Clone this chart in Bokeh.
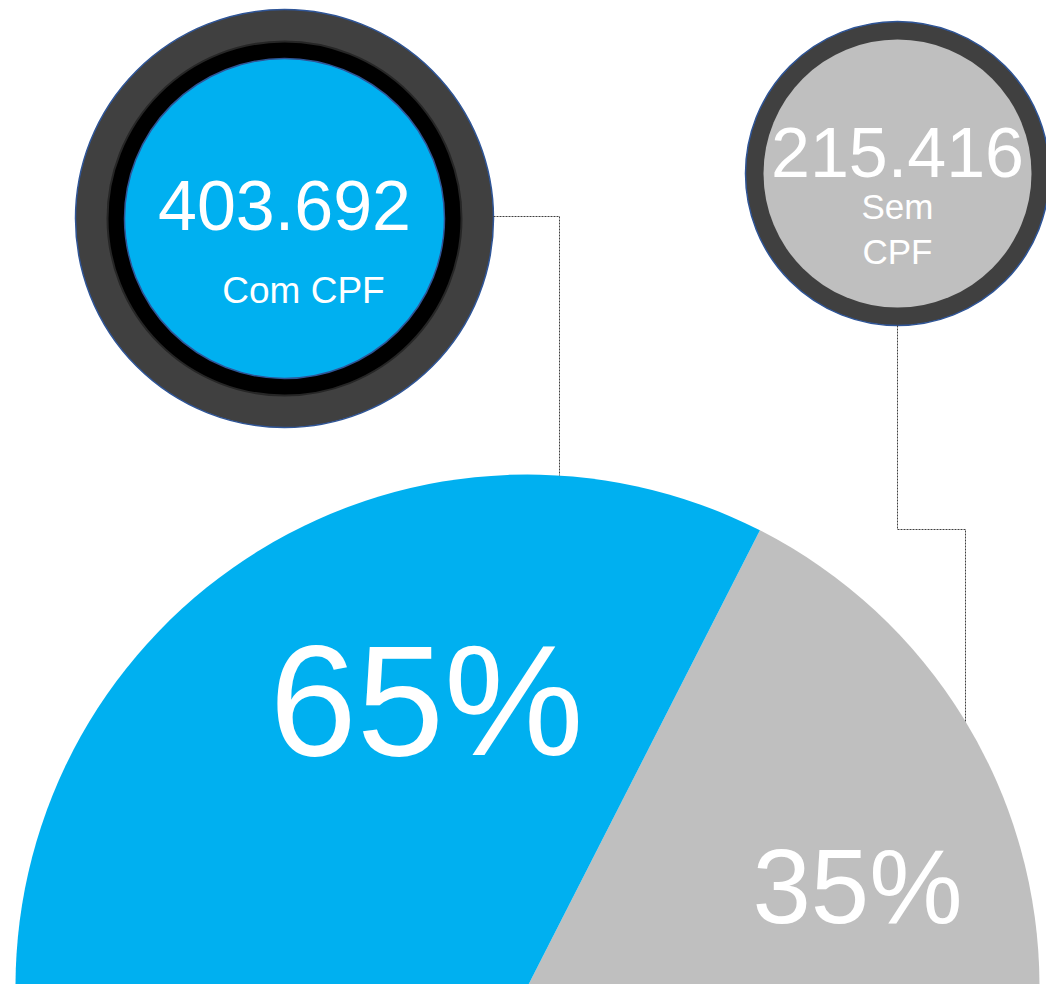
import math
from bokeh.plotting import figure
from bokeh.models import Range1d
from bokeh.core.properties import value
from bokeh.embed import file_html
from bokeh.resources import INLINE

# ---- data ----
categories = ["Com CPF", "Sem CPF"]
counts = [403692, 215416]
count_labels = ["403.692", "215.416"]
percents = [65, 35]
percent_labels = ["65%", "35%"]
colors = ["#00B0F0", "#BFBFBF"]

FONT = value("Liberation Sans")
W, H, PAGE_H = 1046, 984, 988


def Y(sy):
    return PAGE_H - sy


p = figure(width=W, height=H, x_range=Range1d(0, W),
           y_range=Range1d(PAGE_H - H, PAGE_H),
           output_backend="svg", toolbar_location=None, min_border=0)
p.axis.visible = False
p.grid.visible = False
p.outline_line_color = None
p.background_fill_color = "white"
p.border_fill_color = "white"

# ---- half pie ----
PCX, PCY, PR = 527, 986, 512
order = [1, 0]  # counter-clockwise from the right: Sem CPF, then Com CPF
start = 0.0
ws, we, wc = [], [], []
for i in order:
    a = percents[i] / 100.0 * math.pi
    ws.append(start)
    we.append(start + a)
    wc.append(colors[i])
    start += a
p.wedge(x=[PCX] * 2, y=[Y(PCY)] * 2, radius=PR, start_angle=ws, end_angle=we,
        fill_color=wc, line_color=None)


def label(x, sy, txt, size):
    p.text(x=[x], y=[Y(sy)], text=[txt], text_font=FONT,
           text_font_size=size, text_color="white", text_align="center",
           text_baseline="middle")


label(426, 700, percent_labels[0], "157px")
label(857, 885.5, percent_labels[1], "105px")


def arc_y(x):
    return PCY - math.sqrt(PR ** 2 - (x - PCX) ** 2)


# ---- left circle (Com CPF) ----
LCX, LCY = 284, 218
p.circle(x=[LCX], y=[Y(LCY)], radius=209, fill_color="#404040",
         line_color="#2F5597", line_width=1.5)
p.circle(x=[LCX], y=[Y(LCY)], radius=177, fill_color="#000000",
         line_color="#262626", line_width=2)
p.circle(x=[LCX], y=[Y(LCY)], radius=160, fill_color=colors[0],
         line_color="#2F5597", line_width=1.5)
label(LCX, 205, count_labels[0], "70px")
label(303, 290, categories[0], "37px")

# ---- right circle (Sem CPF) ----
RCX, RCY = 897, 173
p.circle(x=[RCX], y=[Y(RCY)], radius=152, fill_color="#404040",
         line_color="#2F5597", line_width=1.5)
p.circle(x=[RCX], y=[Y(RCY)], radius=134, fill_color=colors[1],
         line_color=None)
label(RCX, 152, count_labels[1], "70px")
sem, cpf = categories[1].split(" ")
label(RCX, 205.5, sem, "35px")
label(RCX, 250.5, cpf, "35px")

# ---- connectors ----
lx = 559
p.line(x=[LCX + 209, lx, lx], y=[Y(216), Y(216), Y(arc_y(lx))],
       line_color="#404040", line_width=1, line_dash="2 1")
rx = 965
p.line(x=[RCX, RCX, rx, rx], y=[Y(RCY + 152), Y(529), Y(529), Y(arc_y(rx))],
       line_color="#404040", line_width=1, line_dash="2 1")

open("out.html", "w").write(file_html(p, INLINE))
